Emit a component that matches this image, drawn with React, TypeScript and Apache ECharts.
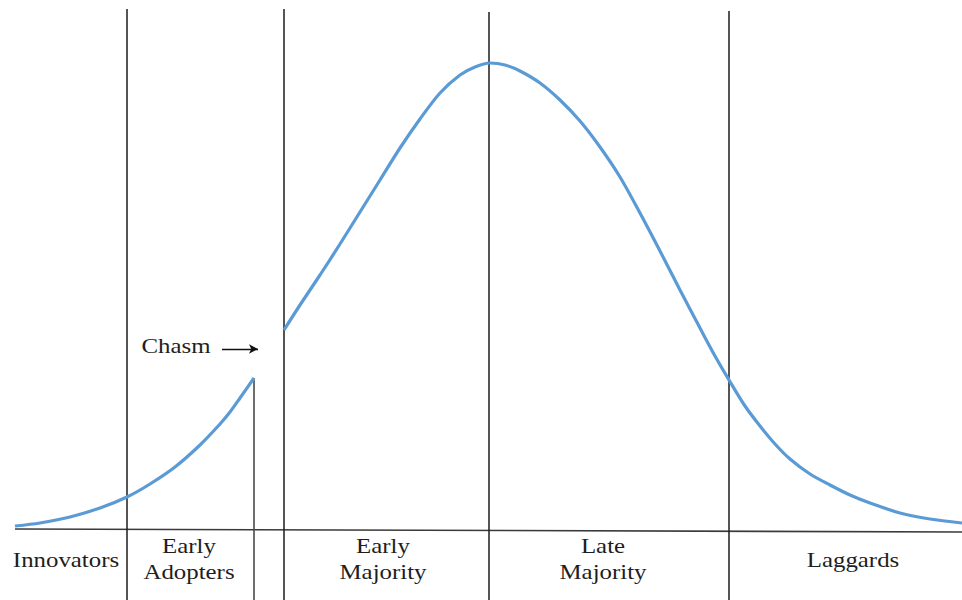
import React, { useEffect, useRef } from "react";
import * as echarts from "echarts";

// Bell curve (adoption), left of the chasm: [time, adopters]
const earlySegment: [number, number][] = [
  [15, 4], [40, 7], [70, 13], [100, 22], [127, 33], [150, 46], [175, 63],
  [200, 85], [220, 106], [230, 118], [240, 132], [254, 152],
];
// Right of the chasm
const mainSegment: [number, number][] = [
  [284, 200], [300, 225], [320, 255], [340, 286], [360, 318], [380, 350],
  [400, 382], [420, 411], [440, 437], [460, 455], [475, 463], [490, 467],
  [505, 465], [520, 459], [540, 447], [560, 430], [580, 409], [600, 383],
  [620, 353], [640, 317], [660, 279], [680, 240], [700, 202], [715, 174],
  [729, 150], [745, 124], [760, 104], [775, 86], [790, 71], [810, 56],
  [830, 45], [850, 35], [870, 27], [900, 17], [930, 11], [962, 7],
];
// Segment boundaries: [x, top]
const dividers: [number, number][] = [
  [127, 521], [284, 521], [489, 518], [729, 519],
];
const chasmDrop: [number, number] = [254, 152];
const axisBottom = -70;
const baseline: [number, number][] = [[15, 1], [962, -2]];

const categories = ["Innovators", "Early\nAdopters", "Early\nMajority", "Late\nMajority", "Laggards"];
const categoryCenters = [66, 189, 383, 603, 853];
const labelRowOne = -16; // value for the label row
const chasmLabel = "Chasm";
const chasmLabelPos: [number, number] = [176, 184];
const chasmArrow: [[number, number], [number, number]] = [[222, 181], [258, 181]];

const serif = "'Liberation Serif', 'Times New Roman', serif";

export default function App() {
  const ref = useRef<HTMLDivElement>(null);
  useEffect(() => {
    if (!ref.current) return;
    const chart = echarts.init(ref.current, undefined, { renderer: "svg" });
    const blue = "#5b9bd5";
    const series: any[] = [];
    series.push({
      type: "line", data: baseline, symbol: "none", silent: true,
      lineStyle: { color: "#3a3a3a", width: 1.6 },
    });
    dividers.forEach(([x, top]) => {
      series.push({
        type: "line", data: [[x, axisBottom], [x, top]], symbol: "none", silent: true,
        lineStyle: { color: "#1c1c1c", width: 1.5 },
      });
    });
    series.push({
      type: "line", data: [[chasmDrop[0], axisBottom], chasmDrop], symbol: "none", silent: true,
      lineStyle: { color: "#4a4a4a", width: 1.6 },
    });
    series.push({
      type: "line", data: earlySegment, smooth: 0.3, symbol: "none",
      lineStyle: { color: blue, width: 3.2 },
    });
    series.push({
      type: "line", data: mainSegment, smooth: 0.3, symbol: "none",
      lineStyle: { color: blue, width: 3.2 },
      markLine: {
        silent: true, symbol: ["none", "arrow"], symbolSize: [7, 9],
        label: { show: false },
        lineStyle: { color: "#111", width: 1.3, type: "solid" },
        data: [[{ coord: chasmArrow[0] }, { coord: chasmArrow[1] }]],
      },
    });
    chart.setOption({
      animation: false,
      backgroundColor: "#ffffff",
      grid: { left: 0, right: 0, top: 0, bottom: 0 },
      xAxis: { type: "value", min: 0, max: 962, show: false },
      yAxis: { type: "value", min: axisBottom, max: 530, show: false },
      series,
    });

    const texts: any[] = [];
    const lineGap = 26;
    categories.forEach((c, i) => {
      const lines = c.split("\n");
      const [px, py] = chart.convertToPixel({ gridIndex: 0 }, [categoryCenters[i], labelRowOne]) as number[];
      const start = lines.length === 1 ? py + 14 : py;
      lines.forEach((ln, j) => {
        texts.push({
          type: "text", x: px, y: start + j * lineGap, scaleX: 1.13,
          style: {
            text: ln, fill: "#1e1e1e", font: `22px ${serif}`,
            textAlign: "center", textVerticalAlign: "middle",
          },
        });
      });
    });
    const [cx, cy] = chart.convertToPixel({ gridIndex: 0 }, chasmLabelPos) as number[];
    texts.push({
      type: "text", x: cx, y: cy, scaleX: 1.13,
      style: {
        text: chasmLabel, fill: "#1e1e1e", font: `22px ${serif}`,
        textAlign: "center", textVerticalAlign: "middle",
      },
    });
    chart.setOption({ graphic: texts });
    return () => chart.dispose();
  }, []);
  return (
    <div
      ref={ref}
      style={{ position: "fixed", left: 0, top: 0, width: 962, height: 600 }}
    />
  );
}
